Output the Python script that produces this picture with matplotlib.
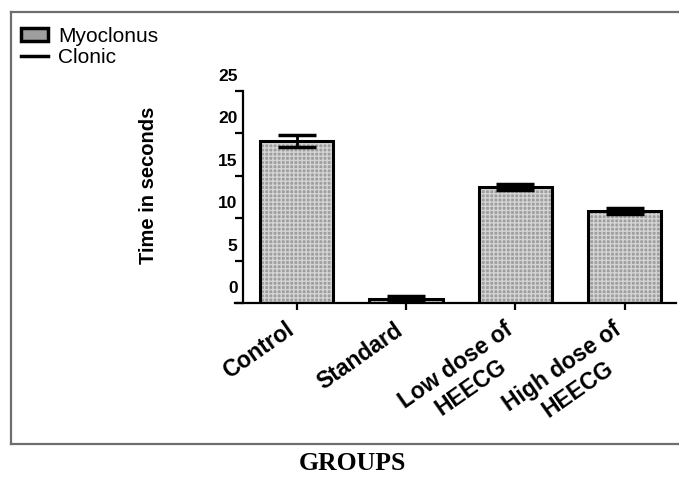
import matplotlib
matplotlib.use('Agg')
import matplotlib.pyplot as plt
import matplotlib.transforms as mtransforms
from matplotlib.patches import Patch
from matplotlib.lines import Line2D

plt.rcParams['font.family'] = ['Liberation Sans', 'DejaVu Sans']
plt.rcParams['hatch.linewidth'] = 1.0

# data
groups = ['Control', 'Standard', 'Low dose of\nHEECG', 'High dose of\nHEECG']
myoclonus = [19.1, 0.5, 13.7, 10.9]
myoclonus_err = [0.75, 0.3, 0.35, 0.35]
y_ticks = [0, 5, 10, 15, 20, 25]

W, H = 679, 479
fig = plt.figure(figsize=(W / 100, H / 100), dpi=100)

# axes placed in pixel terms of the reference
ax = fig.add_axes([235 / W, (H - 303) / H, (676 - 235) / W, (303 - 91) / H])

bar_face = '#9e9e9e'
hatch_col = '#d4d4d4'
x = list(range(len(groups)))
# hatch takes the edge colour, so fill and outline are drawn separately
ax.bar(x, myoclonus, width=0.67, facecolor=bar_face, edgecolor=hatch_col,
       linewidth=0, hatch='++++', zorder=2)
ax.bar(x, myoclonus, width=0.67, fill=False, edgecolor='black',
       linewidth=2.2, zorder=2)
ax.errorbar(x, myoclonus, yerr=myoclonus_err, fmt='none', ecolor='black',
            elinewidth=2, capsize=14, capthick=2.5, zorder=3)

ax.set_xlim(-0.563, 3.47)
ax.set_ylim(0, 25)
ax.spines['top'].set_visible(False)
ax.spines['right'].set_visible(False)
ax.spines['left'].set_position(('data', -0.49))
ax.spines['left'].set_linewidth(1.6)
ax.spines['bottom'].set_linewidth(1.6)

ax.set_yticks(y_ticks)
ax.set_yticklabels([str(v) for v in y_ticks], fontsize=12.5, fontweight='bold')
ax.tick_params(axis='y', direction='out', length=6, width=1.6, pad=0)
# tick labels sit above their ticks in the reference
offset = mtransforms.ScaledTranslation(3 / 100, 16 / 100, fig.dpi_scale_trans)
for lab in ax.get_yticklabels():
    lab.set_transform(lab.get_transform() + offset)

ax.set_xticks(x)
ax.set_xticklabels(groups, rotation=35, ha='right', va='top',
                   rotation_mode='anchor', multialignment='center',
                   fontsize=16.5, fontweight='bold')
ax.tick_params(axis='x', direction='out', length=5, width=1.6, pad=6)
xoff = mtransforms.ScaledTranslation(-12 / 100, 0, fig.dpi_scale_trans)
for lab in ax.get_xticklabels():
    lab.set_transform(lab.get_transform() + xoff)

fig.text(148 / W, 1 - 185 / H, 'Time in seconds', rotation=90,
         ha='center', va='center', fontsize=14.5, fontweight='bold')
fig.text(352 / W, 1 - 464 / H, 'GROUPS', ha='center', va='center',
         fontsize=18.5, fontweight='bold', family='Liberation Serif')

handles = [Patch(facecolor=bar_face, edgecolor='black', linewidth=2.5),
           Line2D([], [], color='black', linewidth=2.5)]
fig.legend(handles, ['Myoclonus', 'Clonic'], loc='upper left',
           bbox_to_anchor=(6 / W, 1 - 12 / H), frameon=False, fontsize=15,
           handlelength=1.3, handleheight=0.6, handletextpad=0.5,
           labelspacing=0.1, borderpad=0.2)

# outer frame (no right side visible)
fc = '#6e6e6e'
fig.add_artist(Line2D([11 / W, 1], [1 - 12 / H, 1 - 12 / H], color=fc, lw=1.6))
fig.add_artist(Line2D([11 / W, 11 / W], [1 - 12 / H, 1 - 444 / H], color=fc, lw=1.6))
fig.add_artist(Line2D([11 / W, 1], [1 - 444 / H, 1 - 444 / H], color=fc, lw=1.6))

fig.savefig('out.png', dpi=100)
